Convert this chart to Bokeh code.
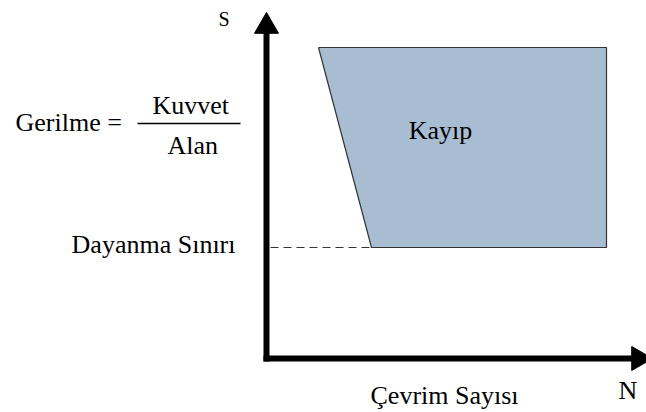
import math
from bokeh.plotting import figure
from bokeh.models import Range1d, ColumnDataSource
from bokeh.core.properties import value
from bokeh.embed import file_html
from bokeh.resources import INLINE

# S-N schematic: cycles (N) on x, stress (S) on y, origin at the axes corner
N_loss_top_left = 52      # left edge of the loss region at the top
N_loss_bottom_left = 105  # left edge of the loss region at the endurance limit
N_loss_right = 340        # right edge of the loss region
S_loss_top = 311          # upper stress bound of the loss region
S_endurance = 111         # endurance limit (Dayanma Sınırı)

N_axis_end = 386
S_axis_end = 346
head = 24

SERIF = value("Times New Roman")

p = figure(width=646, height=412, min_border=0, toolbar_location=None,
           output_backend="svg",
           x_range=Range1d(-266, 380), y_range=Range1d(-54, 358))
p.axis.visible = False
p.grid.visible = False
p.outline_line_color = None

# loss region: filled between its slanted left edge and its right edge
p.harea(y=[S_endurance, S_loss_top],
        x1=[N_loss_bottom_left, N_loss_top_left],
        x2=[N_loss_right, N_loss_right], fill_color="#A8BDD1")
p.line(x=[N_loss_top_left, N_loss_right, N_loss_right, N_loss_bottom_left,
          N_loss_top_left],
       y=[S_loss_top, S_loss_top, S_endurance, S_endurance, S_loss_top],
       line_color="#333333", line_width=1.2)

# endurance limit guide
p.segment(x0=[4], y0=[S_endurance], x1=[N_loss_bottom_left], y1=[S_endurance],
          line_color="#333333", line_width=1.2, line_dash="8 5")

# axes: thick shafts plus triangular heads
tip_off = head * math.sqrt(3) / 3
p.segment(x0=[0, -3], y0=[-3, 0], x1=[0, N_axis_end - tip_off],
          y1=[S_axis_end - tip_off, 0], line_color="black", line_width=6)
p.scatter(x=[0, N_axis_end - tip_off], y=[S_axis_end - tip_off, 0],
          marker="triangle", size=head, angle=[0, -math.pi / 2],
          fill_color="black", line_color="black")

# fraction bar of the stress formula
p.segment(x0=[-129], y0=[235], x1=[-26], y1=[235], line_color="black",
          line_width=1.5)

labels = ColumnDataSource(dict(
    x=[-251, -114, -99, 104, 352],
    y=[222, 239, 199, -51, -46],
    t=["Gerilme =", "Kuvvet", "Alan", "Çevrim Sayısı", "N"],
))
p.text(x="x", y="y", text="t", source=labels, text_font=SERIF,
       text_font_size="26px", text_baseline="bottom", text_align="left",
       text_color="black")

p.text(x=[-31], y=[100], text=["Dayanma Sınırı"], text_font=SERIF,
       text_font_size="26px", text_baseline="bottom", text_align="right",
       text_color="black")
p.text(x=[174], y=[214], text=["Kayıp"], text_font=SERIF,
       text_font_size="26px", text_baseline="bottom", text_align="center",
       text_color="black")
p.text(x=[-48], y=[329], text=["S"], text_font=SERIF,
       text_font_size="20px", text_baseline="bottom", text_align="left",
       text_color="black")

open("out.html", "w").write(file_html(p, INLINE))
